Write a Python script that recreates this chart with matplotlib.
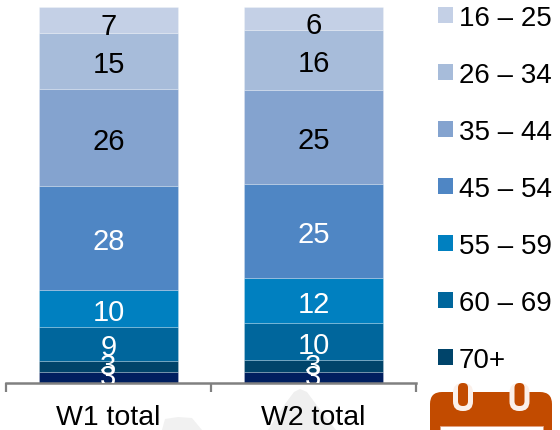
import matplotlib
matplotlib.use("Agg")
import matplotlib.pyplot as plt
from matplotlib.patches import Patch, Polygon, Rectangle, FancyBboxPatch

categories = ["W1 total", "W2 total"]
age_groups = ["70+", "60 – 69", "55 – 59", "45 – 54", "35 – 44", "26 – 34", "16 – 25"]
w1_values = [3, 3, 9, 10, 28, 26, 15, 7]
w2_values = [3, 3, 10, 12, 25, 25, 16, 6]
colors = ["#001F5F", "#00446A", "#00669C", "#0080C0", "#4F86C4", "#84A3CF", "#A7BCDA", "#C4D0E6"]
text_colors = ["white", "white", "white", "white", "white", "black", "black", "black"]

W, H = 560, 431
plt.rcParams["font.family"] = ["Liberation Sans", "DejaVu Sans"]
fig = plt.figure(figsize=(W / 100, H / 100), dpi=100)

# Faint background artwork behind the category labels
back = fig.add_axes([0, 0, 1, 1], facecolor="none", zorder=0)
back.set_xlim(0, W)
back.set_ylim(H, 0)
back.axis("off")
back.add_patch(Polygon([(268, 431), (285, 405), (294, 393), (300, 390), (307, 393),
                        (318, 408), (336, 431)], facecolor="#EFEFEF", edgecolor="none"))
back.add_patch(Polygon([(162, 431), (165, 420), (178, 418), (192, 419), (202, 431)],
                       facecolor="#F1F1F1", edgecolor="none"))

ax = fig.add_axes([6 / W, 1 - 384 / H, 410 / W, 376 / H], facecolor="none", zorder=1)

series = [w1_values, w2_values]
for i, vals in enumerate(series):
    total = sum(vals)
    base = 0.0
    for j, v in enumerate(vals):
        h = v / total * 100
        ax.bar(i, h, 0.675, bottom=base, color=colors[j], edgecolor="#FFFFFF40", linewidth=0.6)
        # Labels sit slightly low, except in the two thin bands at the base;
        # the topmost one drops further within its narrow band
        if j < 2:
            drop = 0.0
        elif j == len(vals) - 1:
            drop = -4.5
        else:
            drop = -2.5
        ann = ax.annotate(str(v), (i, base + h / 2), xytext=(0, drop), textcoords="offset points",
                          ha="center", va="center", fontsize=21, color=text_colors[j],
                          annotation_clip=False)
        ann.set_clip_on(True)
        ann.set_clip_path(ax.patch)
        base += h

ax.set_xlim(-0.5, 1.5)
ax.set_ylim(0, 100)
ax.set_yticks([])
ax.set_xticks([-0.5, 0.5, 1.5])
ax.set_xticklabels([])
ax.tick_params(axis="x", length=6.5, width=1.6, color="#808080")
for name in ("top", "left", "right"):
    ax.spines[name].set_visible(False)
ax.spines["bottom"].set_color("#808080")
ax.spines["bottom"].set_linewidth(1.8)
for i, c in enumerate(categories):
    ax.text(i, -9.1, c, ha="center", va="center", fontsize=20.5, color="black", clip_on=False)

handles = [Patch(facecolor=colors[j + 1], edgecolor="none") for j in range(7)][::-1]
leg = fig.legend(handles, age_groups[::-1], loc="upper left",
                 bbox_to_anchor=(438 / W, 1 - 6 / H), frameon=False, fontsize=20,
                 handlelength=0.54, handleheight=0.54, handletextpad=0.22,
                 labelspacing=1.115, borderpad=0, borderaxespad=0)

# Calendar icon, cut off by the lower edge of the canvas
over = fig.add_axes([0, 0, 1, 1], facecolor="none", zorder=2)
over.set_xlim(0, W)
over.set_ylim(H, 0)
over.axis("off")
orange = "#C24B00"
over.add_patch(FancyBboxPatch((430, 393), 122, 60, boxstyle="round,pad=0,rounding_size=12",
                              facecolor=orange, edgecolor="none"))
over.add_patch(Rectangle((440, 427), 103, 10, facecolor="white", edgecolor="#E0A080", linewidth=0.6))
for x in (463, 519.5):
    over.add_patch(FancyBboxPatch((x - 10, 384), 20, 28, boxstyle="round,pad=0,rounding_size=9.5",
                                  facecolor="#FBF0EA", edgecolor="none"))
    over.add_patch(FancyBboxPatch((x - 5, 384), 10, 23, boxstyle="round,pad=0,rounding_size=4.8",
                                  facecolor=orange, edgecolor="none"))

fig.savefig("out.png", dpi=100)
